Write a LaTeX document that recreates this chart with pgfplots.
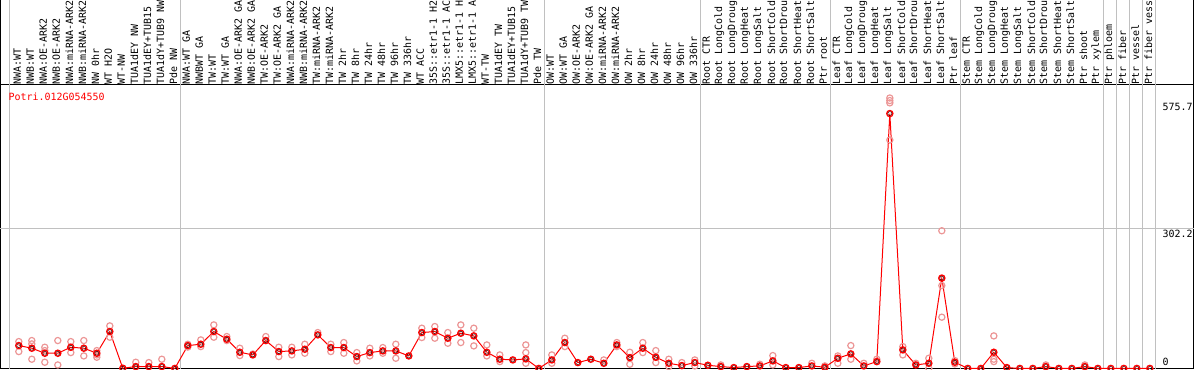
\documentclass[border=0pt]{standalone}
\usepackage{pgfplots}
\pgfplotsset{compat=1.18}
\usepackage{pgfplotstable}
\usepackage{fontspec}
\newfontfamily\monof{DejaVu Sans Mono}
\definecolor{rep}{RGB}{236,150,150}
\definecolor{sep}{RGB}{192,192,192}

\pgfplotstableread{
x y
0 49.2
1 43.5
2 32.7
3 32.7
4 45.6
5 43.5
6 32.7
7 79.4
8 0.4
9 4
10 4
11 4
12 0
13 49.2
14 52.1
15 79.4
16 62.9
17 34.8
18 29.1
19 60
20 36.3
21 37.7
22 41.3
23 72.2
24 44.9
25 44.9
26 25.5
27 34.1
28 37.7
29 37.7
30 26.9
31 77.2
32 79.4
33 65
34 75.8
35 70
36 34.8
37 19.8
38 18.3
39 20.5
40 0
41 18.3
42 55.7
43 12.6
44 19.8
45 11.1
46 50.6
47 23.3
48 43.5
49 24.1
50 11.1
51 6.1
52 12.6
53 6.8
54 4
55 1.8
56 4
57 5.4
58 16.2
59 1.8
60 1.8
61 5.4
62 2.5
63 21.9
64 31.3
65 5.4
66 14.7
67 548.5
68 39.9
69 7.5
70 11.1
71 194.4
72 13.3
73 0
74 0
75 34.8
76 1.8
77 0
78 0
79 4
80 0
81 0
82 4
83 0
84 0
85 0
86 0
87 0
}\means

\pgfplotstableread{
x y
0 57.8
0 36.3
1 60
1 52.8
1 19.8
2 45.6
2 38.4
2 13.3
3 60
3 7.5
4 57.8
4 34.1
5 60
5 26.9
6 38.4
6 29.1
6 24.1
7 91.6
7 67.2
9 13.3
10 12.6
11 19.8
13 52
13 46
14 61.4
14 47
15 93.7
15 67.2
16 68.6
16 60
17 43.5
17 27.7
18 31
19 68.6
20 45.6
20 25.5
21 45.6
21 29.1
22 52.1
22 32.7
23 77.2
24 52.1
24 36.3
25 55.7
25 32.7
26 34.1
26 16.2
27 43.5
27 26.9
28 44.9
28 32.7
29 52.1
29 21.9
31 86.6
31 66.5
32 90.2
32 65
33 77.2
33 54.2
34 93.7
34 55.7
35 86.6
35 48.5
36 50.6
36 26.9
37 29.1
37 14.7
39 50.6
39 34.1
39 11.1
41 29.1
41 11.1
42 65
42 47
45 18.3
46 55.7
46 47
47 34.8
47 9
48 55.7
48 34.1
49 38.4
49 12.6
50 19.8
50 4
51 12.6
52 18.3
52 5.4
54 7.5
57 9
58 27.7
58 7.5
61 11.1
62 5.4
63 26.9
63 11.1
64 49.2
64 19.8
65 11.1
66 19.8
67 582
67 576.5
67 571.5
67 491.6
68 47
68 29.1
69 11.1
70 21.9
70 0.4
71 296.3
71 178.4
71 110.3
72 16.9
72 9.7
75 70
75 19.8
75 14.7
79 7.5
82 7.5
}\reps

\begin{document}
\begin{tikzpicture}
\begin{axis}[
  width=1193bp, height=284bp, scale only axis,
  xmin=-1.408, xmax=90.36, ymin=-1.2, ymax=610,
  clip=false,
  axis line style={line width=1bp, black},
  major tick length=0pt,
  xtick={0,...,87},
  xticklabels={NWA:WT,NWB:WT,NWA:OE-ARK2,NWB:OE-ARK2,NWA:miRNA-ARK2,NWB:miRNA-ARK2,NW 0hr,WT H2O,WT-NW,TUA1dEY NW,TUA1dEY+TUB15 NW,TUA1dY+TUB9 NW,Pde NW,NWA:WT GA,NWBWT GA,TW:WT,TW:WT GA,NWA:OE-ARK2 GA,NWB:OE-ARK2 GA,TW:OE-ARK2,TW:OE-ARK2 GA,NWA:miRNA-ARK2,NWB:miRNA-ARK2,TW:miRNA-ARK2,TW:miRNA-ARK2,TW 2hr,TW 8hr,TW 24hr,TW 48hr,TW 96hr,TW 336hr,WT ACC,35S::etr1-1 H2O,35S::etr1-1 ACC,LMX5::etr1-1 H2O,LMX5::etr1-1 ACC,WT-TW,TUA1dEY TW,TUA1dEY+TUB15 TW,TUA1dY+TUB9 TW,Pde TW,OW:WT,OW:WT GA,OW:OE-ARK2,OW:OE-ARK2 GA,OW:miRNA-ARK2,OW:miRNA-ARK2,OW 2hr,OW 8hr,OW 24hr,OW 48hr,OW 96hr,OW 336hr,Root CTR,Root LongCold,Root LongDrought,Root LongHeat,Root LongSalt,Root ShortCold,Root ShortDrought,Root ShortHeat,Root ShortSalt,Ptr root,Leaf CTR,Leaf LongCold,Leaf LongDrought,Leaf LongHeat,Leaf LongSalt,Leaf ShortCold,Leaf ShortDrought,Leaf ShortHeat,Leaf ShortSalt,Ptr leaf,Stem CTR,Stem LongCold,Stem LongDrought,Stem LongHeat,Stem LongSalt,Stem ShortCold,Stem ShortDrought,Stem ShortHeat,Stem ShortSalt,Ptr shoot,Ptr xylem,Ptr phloem,Ptr fiber,Ptr vessel,Ptr fiber vessel},
  xticklabel pos=right,
  xticklabel style={rotate=90, anchor=west, inner sep=0pt, xshift=0bp, yshift=1.5bp, font=\monof\fontsize{10}{10}\selectfont},
  ytick={302.2,575.7},
  yticklabels={302.2,575.7},
  yticklabel pos=right,
  yticklabel style={anchor=north west, inner sep=0pt, xshift=-31bp, yshift=-2bp, font=\monof\fontsize{10}{10}\selectfont},
  extra y ticks={0},
  extra y tick labels={0},
  extra y tick style={yticklabel style={anchor=base west, yshift=5bp}},
]
\pgfplotsinvokeforeach{-0.68,12.4,40.4,52.4,62.4,72.4,83.4,84.4,85.4,86.4,87.4}{
  \draw[sep, line width=1bp] (axis cs:#1,-1.2) -- ++(0pt,369bp);
}
\draw[sep, line width=1bp] (axis cs:-1.408,302.2) -- (axis cs:90.36,302.2);
\addplot[only marks, mark=o, mark size=3.1bp, mark options={draw=rep, line width=1.2bp}] table {\reps};
\addplot[red, line width=1bp, mark=o, mark size=3.1bp, mark options={draw=red, line width=1.3bp}] table {\means};
\addplot[only marks, mark=o, mark size=2.0bp, mark options={draw=black!80!red, line width=0.45bp}] table {\means};
\node[anchor=base west, inner sep=0pt, text=red, font=\monof\fontsize{10}{10}\selectfont] at (rel axis cs:0,1) [xshift=8bp, yshift=-15.5bp] {Potri.012G054550};
\coordinate (SW) at (rel axis cs:0,0);
\coordinate (NE) at (rel axis cs:1,1);
\coordinate (NW) at (rel axis cs:0,1);
\end{axis}
\draw[line width=1bp] (NW) -- ++(0pt,86bp);
\draw[line width=1bp] (NE) -- ++(0pt,86bp);
\pgfresetboundingbox
\path[use as bounding box] ([shift={(-0.5bp,-1bp)}]SW) rectangle ([shift={(0.5bp,85bp)}]NE);
\end{tikzpicture}
\end{document}
